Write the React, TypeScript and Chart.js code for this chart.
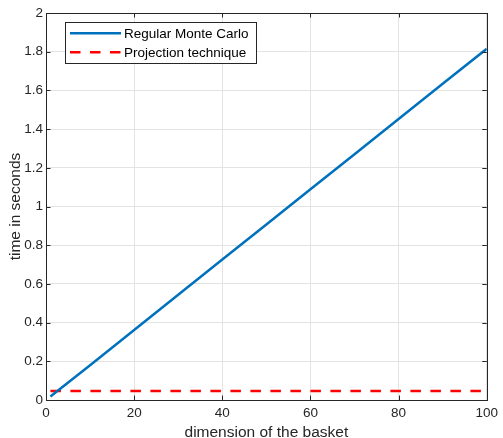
import React, { useEffect, useRef } from "react";
import { Chart, registerables } from "chart.js";

Chart.register(...registerables);

const dims = [1, 10, 20, 30, 40, 50, 60, 70, 80, 90, 100];
const monteCarloTimes = [0.018, 0.18, 0.362, 0.544, 0.726, 0.907, 1.089, 1.27, 1.452, 1.634, 1.815];
const projectionTimes = [0.047, 0.047, 0.047, 0.047, 0.047, 0.047, 0.047, 0.047, 0.047, 0.047, 0.047];
const seriesNames = ["Regular Monte Carlo", "Projection technique"];
const xTitle = "dimension of the basket";
const yTitle = "time in seconds";

const FONT = "Liberation Sans, Arial, Helvetica, sans-serif";
const AXIS = "#262626";
const BLUE = "#0072BD";
const RED = "#FF0000";
const DASH = [10.5, 9.5];

const boxPlugin = {
  id: "matlabBox",
  afterDatasetsDraw(chart: any) {
    const { ctx, chartArea: a, scales } = chart;
    ctx.save();
    ctx.strokeStyle = AXIS;
    ctx.lineWidth = 1;
    ctx.strokeRect(Math.round(a.left) + 0.5, Math.round(a.top) + 0.5, Math.round(a.right - a.left), Math.round(a.bottom - a.top));
    const tl = 4.5;
    ctx.beginPath();
    for (const t of scales.x.ticks) {
      const px = Math.round(scales.x.getPixelForValue(t.value)) + 0.5;
      ctx.moveTo(px, a.bottom);
      ctx.lineTo(px, a.bottom - tl);
      ctx.moveTo(px, a.top);
      ctx.lineTo(px, a.top + tl);
    }
    for (const t of scales.y.ticks) {
      const py = Math.round(scales.y.getPixelForValue(t.value)) + 0.5;
      ctx.moveTo(a.left, py);
      ctx.lineTo(a.left + tl, py);
      ctx.moveTo(a.right, py);
      ctx.lineTo(a.right - tl, py);
    }
    ctx.stroke();

    // axis titles
    ctx.fillStyle = AXIS;
    ctx.font = `15.5px ${FONT}`;
    ctx.textAlign = "center";
    ctx.textBaseline = "alphabetic";
    ctx.fillText(xTitle, (a.left + a.right) / 2, 437);
    ctx.save();
    ctx.translate(20, (a.top + a.bottom) / 2);
    ctx.rotate(-Math.PI / 2);
    ctx.fillText(yTitle, 0, 0);
    ctx.restore();

    // legend
    const lx = 65.5, ly = 22.5, lw = 191, lh = 41;
    ctx.fillStyle = "#ffffff";
    ctx.fillRect(lx, ly, lw, lh);
    ctx.strokeStyle = AXIS;
    ctx.lineWidth = 1;
    ctx.strokeRect(lx, ly, lw, lh);
    const rows = [
      { y: 33.3, color: BLUE, dash: [] as number[] },
      { y: 52.3, color: RED, dash: DASH },
    ];
    rows.forEach((r, i) => {
      ctx.beginPath();
      ctx.strokeStyle = r.color;
      ctx.lineWidth = 2.5;
      ctx.setLineDash(r.dash);
      ctx.moveTo(70, r.y);
      ctx.lineTo(121, r.y);
      ctx.stroke();
      ctx.setLineDash([]);
      ctx.fillStyle = "#000000";
      ctx.font = `13.5px ${FONT}`;
      ctx.textBaseline = "middle";
      ctx.textAlign = "left";
      ctx.fillText(seriesNames[i], 124, r.y + 0.5);
    });
    ctx.restore();
  },
};

export default function App() {
  const ref = useRef<HTMLCanvasElement>(null);
  useEffect(() => {
    document.body.style.margin = "0";
    const chart = new Chart(ref.current!, {
      type: "line",
      data: {
        datasets: [
          {
            label: seriesNames[0],
            data: dims.map((d, i) => ({ x: d, y: monteCarloTimes[i] })),
            borderColor: BLUE,
            borderWidth: 2.5,
            pointRadius: 0,
            fill: false,
            tension: 0,
          },
          {
            label: seriesNames[1],
            data: dims.map((d, i) => ({ x: d, y: projectionTimes[i] })),
            borderColor: RED,
            borderWidth: 2.5,
            borderDash: DASH,
            pointRadius: 0,
            fill: false,
            tension: 0,
          },
        ],
      },
      options: {
        animation: false,
        responsive: false,
        maintainAspectRatio: false,
        layout: { padding: { top: 13, right: 14, left: 0, bottom: 0 } },
        plugins: { legend: { display: false }, tooltip: { enabled: false } },
        scales: {
          x: {
            type: "linear",
            min: 0,
            max: 100,
            border: { display: false },
            grid: { color: "#e3e3e3", drawTicks: false, lineWidth: 1 },
            ticks: {
              stepSize: 20,
              padding: 5,
              color: AXIS,
              font: { family: FONT, size: 13.5 },
              maxRotation: 0,
            },
            afterFit(scale: any) {
              scale.height = 38;
            },
          },
          y: {
            type: "linear",
            min: 0,
            max: 2,
            border: { display: false },
            grid: { color: "#e3e3e3", drawTicks: false, lineWidth: 1 },
            ticks: {
              stepSize: 0.2,
              padding: 3,
              color: AXIS,
              font: { family: FONT, size: 13.5 },
              callback: (v: any) => String(+Number(v).toFixed(1)),
            },
            afterFit(scale: any) {
              scale.width = 46;
            },
          },
        },
      },
      plugins: [boxPlugin],
    });
    return () => chart.destroy();
  }, []);
  return (
    <div style={{ position: "absolute", left: 0, top: 0, width: 503, height: 438, background: "#fff" }}>
      <canvas ref={ref} width={503} height={438} style={{ width: 503, height: 438, display: "block" }} />
    </div>
  );
}
